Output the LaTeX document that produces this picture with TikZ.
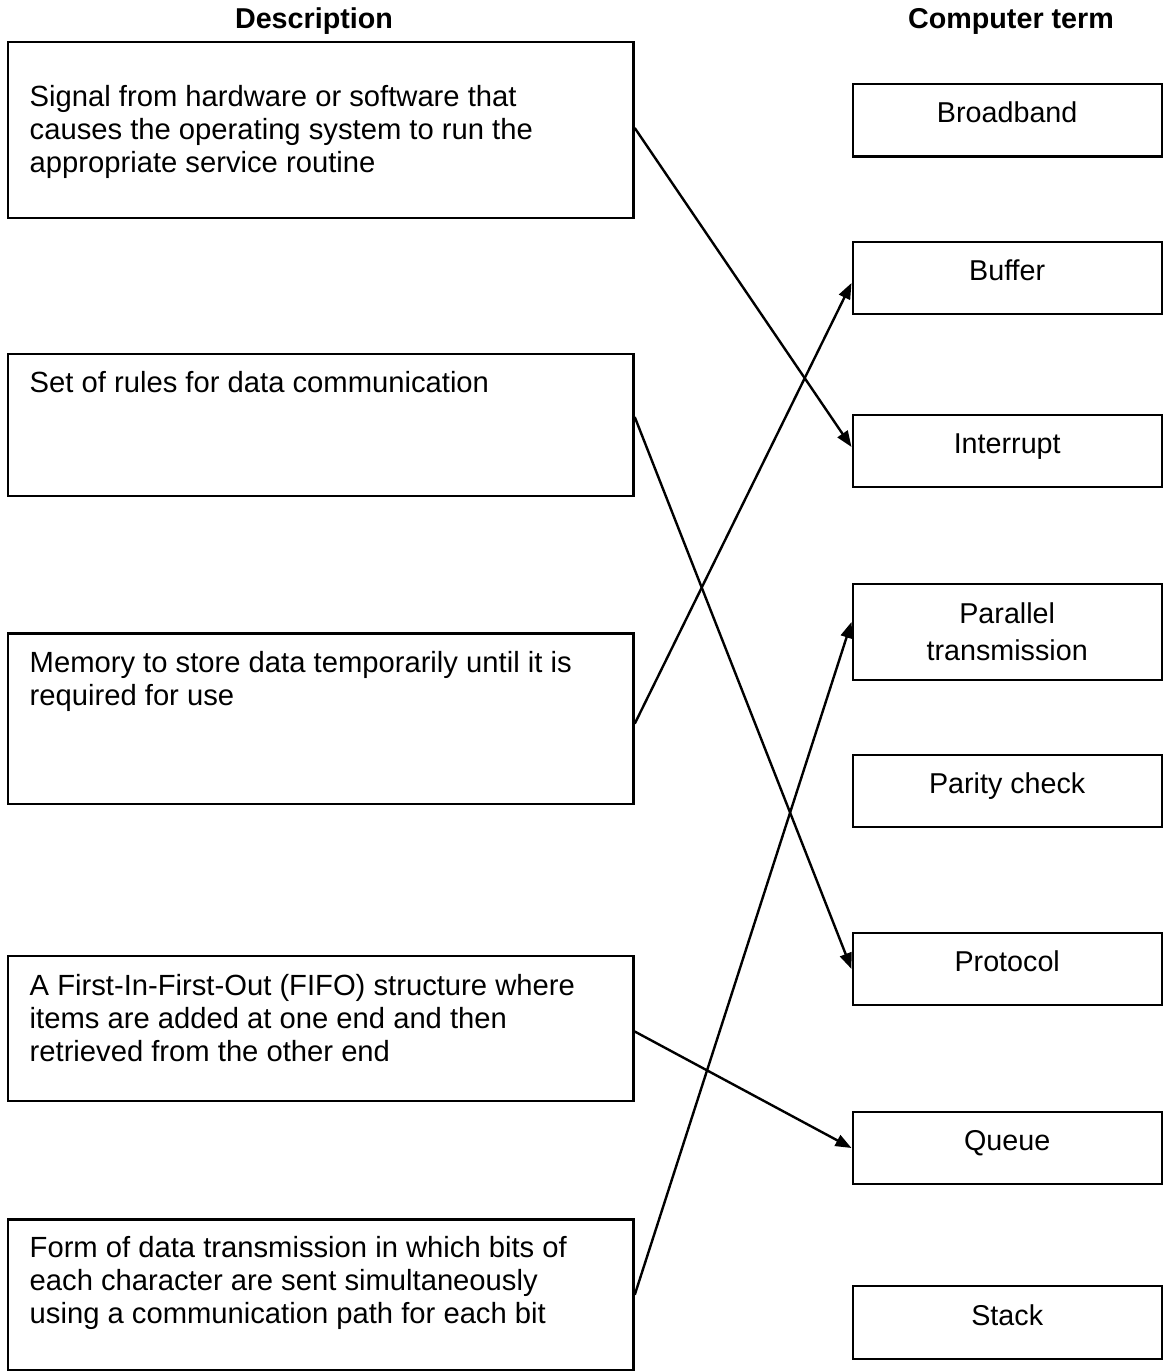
\documentclass[tikz,border=0pt]{standalone}
\usepackage{fontspec}
\setmainfont{Liberation Sans}
\usepackage{tikz}
\usetikzlibrary{arrows.meta,positioning}
\newcommand{\descfont}{\fontsize{28.7}{33}\selectfont}
\newcommand{\leftfont}{\fontsize{29.2}{33}\selectfont}

\begin{document}
\begin{tikzpicture}[x=1pt,y=-1pt,
    descbox/.style={draw,line width=2.4pt,minimum width=625.5pt,inner sep=0pt},
    desctext/.style={anchor=north west,align=left,inner sep=0pt,font=\leftfont},
    termbox/.style={draw,line width=2.4pt,minimum width=309pt,minimum height=72.5pt,inner sep=0pt,font=\descfont},
    term/.style={termbox,text height=21pt,text depth=16pt},
    conn/.style={-{Triangle[length=16pt,width=12pt]},line width=2.4pt}]
    \useasboundingbox (0,0) rectangle (1163,1371);
    \node[font=\descfont\bfseries,anchor=base] (hdesc) at (314,28) {Description};
    \node[font=\descfont\bfseries,anchor=base] (hterm) at (1011,28) {Computer term};
    \foreach \nm/\yc/\h in {d1/130/176,d2/425/142,d3/718.7/170.7,d4/1028.5/145,d5/1294.8/150.5}
      \node[descbox,minimum height=\h pt] (\nm) at (320.8,\yc) {};
    \node[desctext] (d1t) at (29.5,82.9) {\strut Signal from hardware or software that\\causes the operating system to run the\\appropriate service routine};
    \node[desctext] (d2t) at (29.5,369.4) {\strut Set of rules for data communication};
    \node[desctext] (d3t) at (29.5,648.7) {\strut Memory to store data temporarily until it is\\required for use};
    \node[desctext] (d4t) at (29.5,971.9) {\strut A First-In-First-Out (FIFO) structure where\\items are added at one end and then\\retrieved from the other end};
    \node[desctext] (d5t) at (29.5,1233.9) {\strut Form of data transmission in which bits of\\each character are sent simultaneously\\using a communication path for each bit};
    \foreach \nm/\yc/\txt in {bb/120.3/Broadband,bf/278/Buffer,ir/451/Interrupt,pc/791/Parity check,pr/969/Protocol,qu/1148/Queue,st/1322.5/Stack}
      \node[term] (\nm) at (1007.2,\yc) {\txt};
    \node[termbox,minimum height=96pt,align=center,font=\fontsize{28.7}{37}\selectfont] (pt) at (1007.2,632) {Parallel\\transmission};
    \draw[conn] ([yshift=2pt]d1.east) -- ([yshift=4pt]ir.west);
    \draw[conn] ([yshift=8pt]d2.east) -- (pr.west);
    \draw[conn] ([yshift=-5pt]d3.east) -- ([yshift=-5pt]bf.west);
    \draw[conn] ([yshift=-3pt]d4.east) -- (qu.west);
    \draw[conn] (d5.east) -- ([yshift=10pt]pt.west);
\end{tikzpicture}
\end{document}
